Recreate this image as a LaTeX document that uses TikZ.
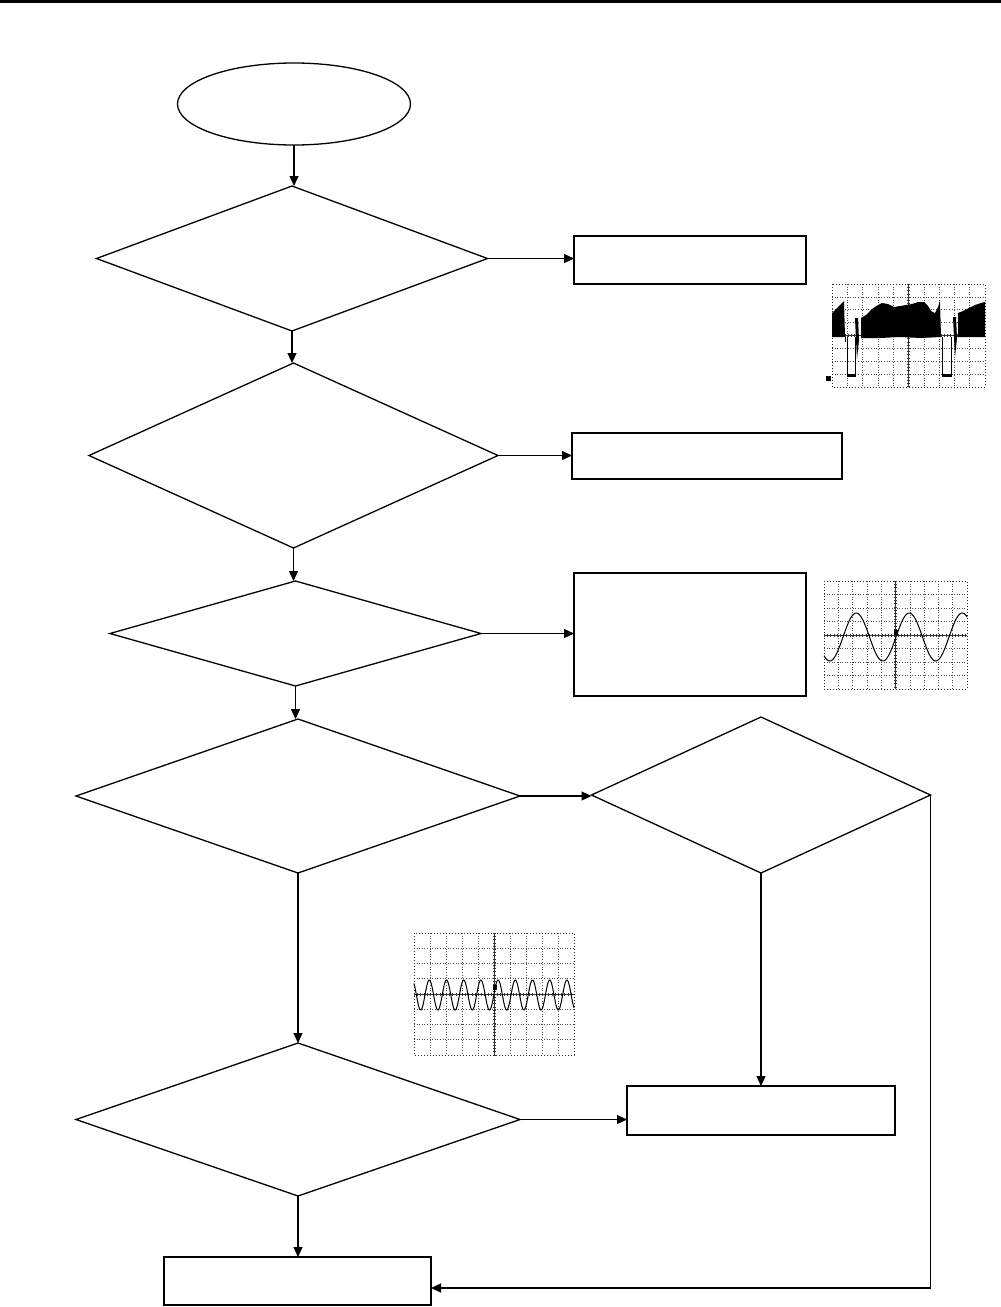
\documentclass[tikz,border=0pt]{standalone}
\usetikzlibrary{shapes.geometric,arrows.meta}
\tikzset{
  dec/.style={diamond, draw, line width=1.3pt, inner sep=0pt, outer sep=0pt},
  blk/.style={rectangle, draw, line width=1.3pt, inner sep=0pt, outer sep=0pt},
  term/.style={ellipse, draw, line width=1.3pt, inner sep=0pt, outer sep=0pt},
  conn/.style={line width=1.2pt, -{Triangle[length=10pt,width=9pt]}},
  gridline/.style={line width=0.6pt, dotted, black!70},
  gridframe/.style={line width=1pt, dotted, black!85},
  axisline/.style={line width=0.7pt, black!80},
  axistick/.style={line width=3pt, black!80, dash pattern=on 0.6pt off 2.6pt},
  wave/.style={line width=1pt, black},
}
\newcommand{\oscgrid}[4]{%
  \foreach \i in {1,...,9} \draw[gridline] ({#1+\i*(#3-#1)/10},#2) -- ({#1+\i*(#3-#1)/10},#4);
  \foreach \j in {1,...,7} \draw[gridline] (#1,{#2+\j*(#4-#2)/8}) -- (#3,{#2+\j*(#4-#2)/8});
  \draw[gridframe] (#1,#2) rectangle (#3,#4);
  \draw[axisline] ({(#1+#3)/2},#2) -- ({(#1+#3)/2},#4);
  \draw[axisline] (#1,{(#2+#4)/2}) -- (#3,{(#2+#4)/2});
  \draw[axistick] ({(#1+#3)/2},#2) -- ({(#1+#3)/2},#4);
  \draw[axistick] (#1,{(#2+#4)/2}) -- (#3,{(#2+#4)/2});
}
\begin{document}
\begin{tikzpicture}[x=1pt,y=-1pt]
\useasboundingbox (0,0) rectangle (1001,1307);
\fill[black] (0,0) rectangle (1001,3);

% flowchart nodes
\node[term, minimum width=233pt, minimum height=82pt] (start) at (294,104) {};
\node[dec, minimum width=391pt, minimum height=145pt] (d1) at (292,258.5) {};
\node[dec, minimum width=409pt, minimum height=185pt] (d2) at (293.5,455.5) {};
\node[dec, minimum width=371pt, minimum height=105pt] (d3) at (295.5,633.5) {};
\node[dec, minimum width=444pt, minimum height=154pt] (d4) at (298,796) {};
\node[dec, minimum width=339pt, minimum height=156pt] (d5) at (761,795) {};
\node[dec, minimum width=444pt, minimum height=153pt] (d6) at (298,1119.5) {};

\node[blk, minimum width=232pt, minimum height=48pt] (b1) at (690,260) {};
\node[blk, minimum width=270pt, minimum height=46pt] (b2) at (707,456) {};
\node[blk, minimum width=232pt, minimum height=123pt] (b3) at (690,634.5) {};
\node[blk, minimum width=268pt, minimum height=49pt] (b4) at (761,1110.5) {};
\node[blk, minimum width=267pt, minimum height=48pt] (b5) at (297.5,1281) {};

\coordinate (c1) at (932,1288);

% connectors
\draw[conn] (start.south) -- (start.south |- d1.north);
\draw[conn] (d1.east) -- (d1.east -| b1.west);
\draw[conn] (d1.south) -- (d1.south |- d2.north);
\draw[conn] (d2.east) -- (d2.east -| b2.west);
\draw[conn] (d2.south) -- (d2.south |- d3.north);
\draw[conn] (d3.east) -- (d3.east -| b3.west);
\draw[conn] (d3.south) -- (d3.south |- d4.north);
\draw[conn] (d4.east) -- (d4.east -| d5.west);
\draw[conn] (d4.south) -- (d6.north);
\draw[conn] (d5.south) -- (d5.south |- b4.north);
\draw[conn] (d6.east) -- (d6.east -| b4.west);
\draw[conn] (d6.south) -- (d6.south |- b5.north);
\draw[conn] (d5.east) -- (d5.east |- c1) -- (c1 -| b5.east);

% scope 1
\oscgrid{832}{284}{985}{387}
\fill[black] (832,337) -- (832,313) -- (836,309) -- (839,306) -- (842,303) -- (844,301) -- (845,337) -- cycle;
\draw[line width=0.6pt] (845,337) -- (845,342);
\draw[line width=0.6pt] (847,337) -- (847,376) -- (855,376) -- (855,337);
\fill[black] (847,374) rectangle (855,377);
\fill[black] (855,318) -- (858,318) -- (859,340) -- (857,359) -- (856,340) -- cycle;
\fill[black] (861,338) -- (861,318) -- (866,315) -- (872,309) -- (878,305) -- (882,303) -- (888,304) -- (894,307) -- (900,306) -- (906,305) -- (912,304) -- (918,302) -- (924,302) -- (928,306) -- (931,311) -- (935,313) -- (938,307) -- (940,301) -- (941,337) -- (921,338) -- (900,337) -- (880,338) -- cycle;
\draw[line width=0.6pt] (942,337) -- (942,376) -- (951,376) -- (951,337);
\fill[black] (942,374) rectangle (951,377);
\fill[black] (953,317) -- (956,317) -- (957,338) -- (955,357) -- (954,338) -- cycle;
\fill[black] (958,337) -- (958,313) -- (963,311) -- (969,308) -- (975,305) -- (981,303) -- (985,302) -- (985,337) -- cycle;
\fill[black] (826,376) rectangle (831,381);

% scope 2
\oscgrid{824}{581}{967}{689}
\draw[wave] plot[domain=824:967, samples=160] (\x, {637-24*sin(6.79245*(\x-896))});
\fill[black] (894,630) rectangle (898,635);

% scope 3
\oscgrid{414}{933}{574}{1055}
\draw[wave] plot[domain=414:574, samples=300] (\x, {995-15*cos(20.9302*(\x-429.3))});
\fill[black] (493,985) rectangle (497,990);
\end{tikzpicture}
\end{document}
